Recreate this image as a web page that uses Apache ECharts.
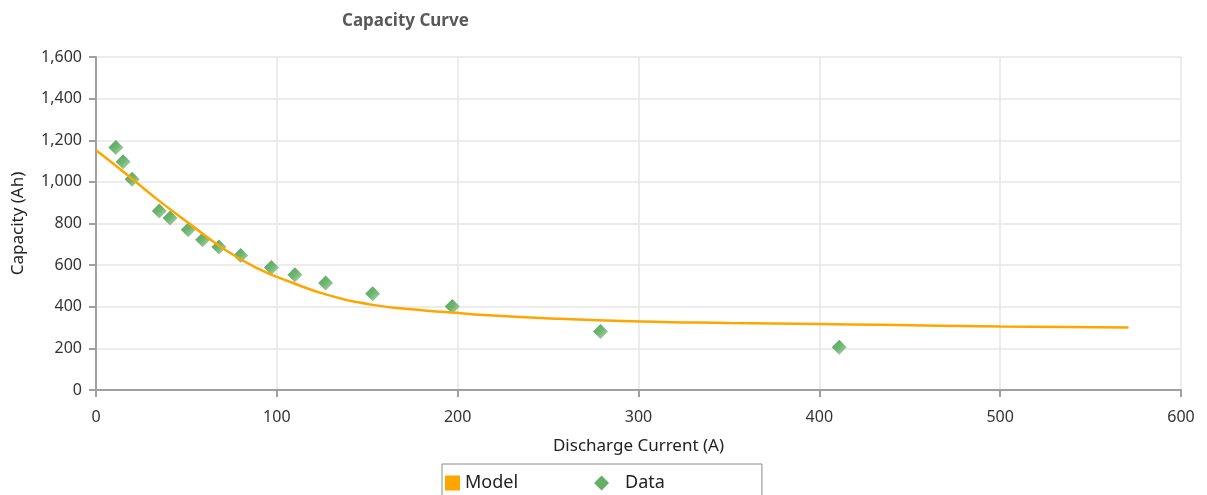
<!DOCTYPE html>
<html>
<head>
<meta charset="utf-8">
<script src="https://cdn.jsdelivr.net/npm/echarts@6/dist/echarts.min.js"></script>
<style>html,body{margin:0;padding:0;background:#fff}#c{width:1207px;height:495px}</style>
</head>
<body>
<div id="c"></div>
<script>
const modelX = [0, 15, 33, 52, 70, 89, 109, 128, 153, 183, 201, 212, 257, 301, 350, 400, 434, 500, 571];
const modelY = [1152, 1050, 922, 797, 682, 586, 514, 457, 409, 381, 370, 361, 342, 329, 322, 317, 313, 305, 300];
const dataX = [11, 15, 20, 35, 41, 51, 59, 68, 80, 97, 110, 127, 153, 197, 279, 411];
const dataY = [1165, 1097, 1013, 860, 826, 770, 722, 687, 646, 589, 554, 514, 462, 401, 281, 206];

const font = '"Noto Sans", "Open Sans", sans-serif';
const chart = echarts.init(document.getElementById('c'));
chart.setOption({
  animation: false,
  title: {
    text: 'Capacity Curve', left: 337, top: 8,
    textStyle: { fontFamily: font, fontSize: 17, fontWeight: 'bold', color: '#595959' }
  },
  grid: { left: 96, right: 26, top: 57, bottom: 105 },
  legend: {
    left: 442, top: 464,
    padding: [10, 97, 20, 3],
    borderColor: '#8a8a8a', borderWidth: 1,
    itemWidth: 15, itemHeight: 15, itemGap: 76,
    textStyle: { fontFamily: font, fontSize: 18, color: '#222' },
    data: [
      { name: 'Model', icon: 'rect', itemStyle: { color: '#FFA500' } },
      { name: 'Data', icon: 'diamond', itemStyle: { color: '#3f9a42' }, textStyle: { padding: [0, 0, 0, 11] } }
    ]
  },
  xAxis: {
    type: 'value', min: 0, max: 600, interval: 100,
    name: 'Discharge Current (A)', nameLocation: 'middle', nameGap: 48,
    nameTextStyle: { fontFamily: font, fontSize: 17, color: '#222' },
    axisLine: { show: true, lineStyle: { color: '#a0a0a0', width: 2 } },
    axisTick: { show: true, length: 7, lineStyle: { color: '#a0a0a0', width: 2 } },
    axisLabel: { fontFamily: font, fontSize: 16, color: '#333', margin: 19 },
    splitLine: { show: true, lineStyle: { color: '#e6e6e6', width: 1.5 } }
  },
  yAxis: {
    type: 'value', min: 0, max: 1600, interval: 200,
    name: 'Capacity (Ah)', nameLocation: 'middle', nameGap: 69, nameRotate: 90,
    nameTextStyle: { fontFamily: font, fontSize: 17, color: '#222' },
    axisLine: { show: true, lineStyle: { color: '#a0a0a0', width: 2 } },
    axisTick: { show: true, length: 7, lineStyle: { color: '#a0a0a0', width: 2 } },
    axisLabel: { fontFamily: font, fontSize: 16, color: '#333', margin: 14,
      formatter: v => v.toLocaleString('en-US') },
    splitLine: { show: true, lineStyle: { color: '#e6e6e6', width: 1.5 } }
  },
  series: [
    {
      name: 'Model', type: 'line', smooth: true, showSymbol: false, symbol: 'none',
      lineStyle: { color: '#FFA500', width: 2.5 },
      itemStyle: { color: '#FFA500' },
      data: modelX.map((x, i) => [x, modelY[i]])
    },
    {
      name: 'Data', type: 'scatter', symbol: 'diamond', symbolSize: 15,
      itemStyle: {
        color: new echarts.graphic.LinearGradient(0, 0, 1, 1, [
          { offset: 0, color: '#2e8b35' }, { offset: 0.5, color: '#4aa34d' }, { offset: 1, color: '#a9d6aa' }
        ])
      },
      data: dataX.map((x, i) => [x, dataY[i]])
    }
  ]
});
</script>
</body>
</html>
